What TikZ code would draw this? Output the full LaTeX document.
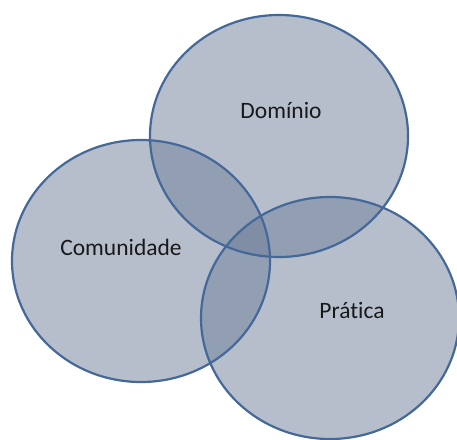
\documentclass[tikz,border=0pt]{standalone}
\usepackage{fontspec}
\setsansfont{Carlito}[Ligatures=NoCommon]
\usepackage{tikz}
\definecolor{vennfill}{RGB}{110,126,152}
\definecolor{vennline}{RGB}{68,104,154}

\begin{document}
\begin{tikzpicture}[x=1pt,y=-1pt,
  venn/.style={fill=vennfill,fill opacity=0.5},
  rim/.style={draw=vennline,line width=2.2pt},
  rotulo/.style={font=\sffamily\fontsize{23.5}{28}\selectfont,text=black!90}]
\useasboundingbox (0,0) rectangle (457,439);
%% preenchimento;
\foreach \cx/\cy in {279/136,141/261,330/318}
  \fill[venn] (\cx,\cy) ellipse [x radius=129,y radius=121];
%% contornos;
\foreach \cx/\cy in {279/136,141/261,330/318}
  \draw[rim] (\cx,\cy) ellipse [x radius=129,y radius=121];
\node[rotulo] (dominio) at (281,110) {Domínio};
\node[rotulo] (comunidade) at (121,247) {Comunidade};
\node[rotulo] (pratica) at (352,310) {Prática};

\end{tikzpicture}
\end{document}
